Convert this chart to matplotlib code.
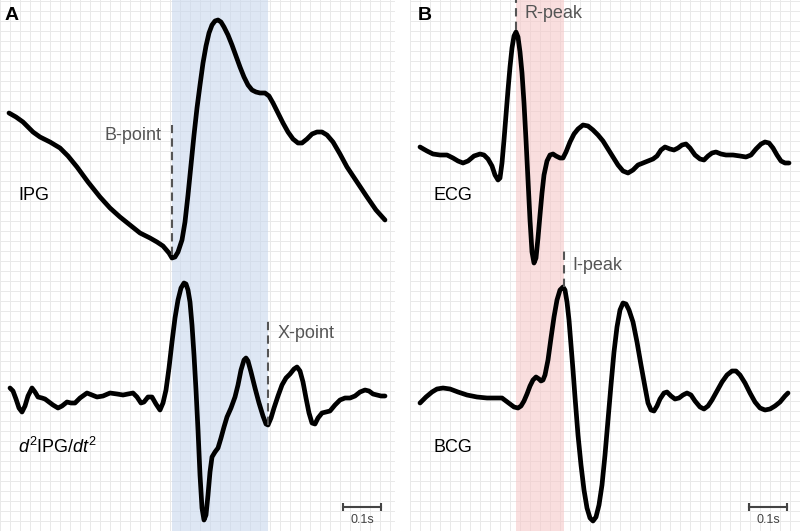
import numpy as np
import matplotlib.pyplot as plt
from matplotlib.ticker import MultipleLocator

plt.rcParams['font.family'] = ['Liberation Sans', 'DejaVu Sans']
plt.rcParams['mathtext.fontset'] = 'custom'
plt.rcParams['mathtext.rm'] = 'Liberation Sans'
plt.rcParams['mathtext.it'] = 'Liberation Sans:italic'

fs = 380.0  # samples per second

# sample index, amplitude (arbitrary units)
ipg_n = [9, 16, 23, 28, 33, 40, 50, 60, 68, 77, 88, 100, 110, 120, 130, 140, 150, 157,
         163, 169, 172, 175, 178, 182, 185, 188, 191, 194, 197, 200, 203, 206, 209,
         212, 215, 218, 221, 224, 228, 232, 236, 240, 244, 248, 252, 256, 260, 265,
         269, 273, 278, 283, 288, 293, 298, 302, 307, 312, 317, 322, 327, 333, 340,
         347, 357, 367, 376, 385]
ipg_a = [8.7, 8.3, 7.8, 7.3, 6.8, 6.3, 5.8, 5.2, 4.4, 3.3, 1.8, 0.3, -0.8, -1.7, -2.5,
         -3.3, -3.8, -4.2, -4.6, -5.3, -5.8, -5.7, -5.2, -4.0, -2.2, 0.5, 3.5, 6.5,
         9.2, 11.5, 13.7, 15.4, 16.7, 17.5, 17.9, 18.0, 17.8, 17.3, 16.5, 15.5, 14.4,
         13.3, 12.3, 11.5, 11.0, 10.8, 10.7, 10.7, 10.4, 9.7, 8.7, 7.7, 6.8, 6.1, 5.7,
         5.7, 6.1, 6.6, 6.8, 6.8, 6.5, 5.8, 4.6, 3.3, 1.8, 0.3, -1.0, -2.0]

d2_n = [10, 13, 16, 19, 22, 25, 28, 32, 35, 38, 42, 45, 49, 53, 58, 62, 67, 71, 75, 80,
        87, 92, 97, 103, 110, 117, 123, 128, 133, 137, 141, 144, 148, 152, 156, 160,
        163, 166, 169, 172, 175, 178, 181, 184, 186, 188, 190, 192, 194, 196, 198,
        200, 202, 204, 206, 208, 210, 212, 215, 218, 221, 224, 227, 231, 235, 238,
        241, 244, 246, 248, 251, 255, 259, 263, 266, 268, 271, 274, 278, 282, 286,
        290, 294, 297, 300, 303, 306, 309, 312, 315, 318, 322, 326, 330, 335, 340,
        345, 350, 355, 360, 365, 369, 373, 377, 381, 385]
d2_a = [1.2, 0.9, 0.1, -0.8, -1.2, -0.6, 0.4, 1.2, 0.8, 0.3, 0.2, 0.1, -0.2, -0.5, -0.8,
        -0.6, -0.2, -0.3, -0.3, 0.2, 0.7, 0.5, 0.3, 0.4, 0.7, 0.6, 0.5, 0.6, 0.7, 0.3,
        -0.3, -0.2, 0.3, 0.3, -0.4, -1.0, -0.3, 1.0, 3.2, 5.8, 8.2, 10.0, 11.2, 11.7,
        11.6, 11.0, 9.8, 7.5, 4.5, 1.0, -3.0, -7.5, -10.8, -12.0, -11.5, -9.5, -7.2,
        -5.7, -5.2, -4.8, -3.8, -2.7, -1.7, -0.8, 0.3, 1.5, 3.0, 4.0, 4.2, 3.9, 2.8,
        1.2, -0.3, -1.6, -2.4, -2.5, -1.8, -0.8, 0.4, 1.5, 2.2, 2.6, 3.1, 3.3, 2.9,
        1.8, 0.2, -1.3, -2.3, -2.4, -1.8, -1.3, -1.2, -1.1, -0.5, 0.0, 0.2, 0.2, 0.4,
        0.8, 1.0, 0.9, 0.6, 0.5, 0.4, 0.4]

ecg_n = [420, 427, 433, 440, 447, 453, 458, 463, 468, 474, 480, 484, 488, 492, 495, 498,
         500, 502, 504, 506, 508, 510, 512, 514, 516, 518, 520, 522, 524, 526, 528,
         530, 532, 534, 536, 538, 540, 542, 544, 547, 550, 553, 556, 560, 563, 566,
         570, 574, 578, 583, 588, 593, 598, 603, 608, 613, 618, 623, 628, 633, 638,
         643, 648, 653, 657, 661, 665, 670, 674, 678, 682, 686, 690, 695, 700, 704,
         708, 712, 716, 721, 726, 733, 740, 746, 751, 756, 761, 765, 769, 773, 777,
         781, 785, 789]
ecg_a = [0.8, 0.4, 0.1, 0.0, 0.0, -0.3, -0.6, -0.8, -0.6, -0.1, 0.1, 0.0, -0.4, -1.1,
         -2.0, -2.5, -2.3, -0.8, 1.5, 4.0, 6.5, 8.8, 10.7, 11.9, 12.3, 11.8, 10.3, 8.2,
         5.2, 1.5, -2.5, -6.5, -9.7, -10.8, -10.3, -8.3, -6.0, -3.8, -2.0, -0.6, 0.0,
         0.1, -0.1, -0.3, -0.3, 0.3, 1.3, 2.1, 2.6, 3.0, 2.9, 2.5, 2.0, 1.4, 0.6, -0.2,
         -1.0, -1.6, -1.8, -1.5, -1.0, -0.8, -0.6, -0.4, -0.1, 0.5, 0.8, 0.6, 0.5, 0.7,
         1.0, 1.1, 0.7, 0.0, -0.4, -0.5, -0.1, 0.2, 0.3, 0.1, 0.0, 0.0, -0.1, -0.2, 0.0,
         0.6, 1.1, 1.3, 1.2, 0.7, 0.0, -0.6, -0.8, -0.8]

bcg_n = [420, 426, 432, 437, 443, 450, 458, 467, 477, 487, 495, 502, 506, 510, 514, 518,
         521, 524, 527, 530, 533, 536, 539, 541, 543, 545, 548, 551, 554, 557, 560,
         563, 565, 567, 569, 571, 573, 575, 578, 581, 584, 587, 590, 593, 596, 599,
         602, 605, 608, 611, 614, 617, 620, 623, 626, 629, 633, 637, 641, 645, 648,
         651, 654, 657, 660, 664, 667, 671, 675, 679, 683, 687, 691, 695, 700, 704,
         708, 712, 717, 722, 727, 732, 736, 740, 745, 750, 755, 760, 765, 770, 775,
         780, 785, 788]
bcg_a = [-0.3, 0.3, 0.8, 1.1, 1.2, 1.1, 0.8, 0.5, 0.3, 0.2, 0.2, 0.2, -0.1, -0.4, -0.7,
         -0.8, -0.6, -0.1, 0.6, 1.4, 2.0, 2.3, 2.1, 1.9, 2.0, 2.5, 4.0, 6.2, 8.3, 10.0,
         11.0, 11.3, 11.0, 9.8, 8.0, 5.5, 3.0, 0.3, -3.5, -6.5, -9.0, -10.8, -11.8,
         -12.1, -11.7, -10.5, -8.5, -5.5, -2.0, 1.5, 4.8, 7.3, 9.0, 9.7, 9.6, 9.0, 7.8,
         5.8, 3.5, 1.3, -0.3, -1.0, -1.1, -0.6, 0.1, 0.7, 0.8, 0.4, 0.1, 0.2, 0.5, 0.7,
         0.5, -0.1, -0.7, -0.9, -0.6, 0.0, 0.9, 1.8, 2.5, 2.9, 2.9, 2.5, 1.7, 0.7, -0.2,
         -0.8, -1.0, -0.9, -0.6, -0.2, 0.4, 0.7]

b_point, x_point = 172, 268
r_peak, i_peak = 516, 564


def sec(n):
    return np.asarray(n, dtype=float) / fs


fig = plt.figure(figsize=(8, 5.31), dpi=100)
axA = fig.add_axes([0, 0, 395 / 800, 1])
axB = fig.add_axes([410 / 800, 0, 390 / 800, 1])

for ax, lo, hi in ((axA, 0, 395), (axB, 410, 800)):
    ax.set_xlim(sec(lo), sec(hi))
    ax.set_ylim(0, 53.1)
    ax.xaxis.set_major_locator(MultipleLocator(10 / fs))
    ax.yaxis.set_major_locator(MultipleLocator(1.0))
    ax.grid(True, color='#e9e9e9', lw=0.7)
    ax.set_axisbelow(True)
    ax.tick_params(length=0, labelbottom=False, labelleft=False)
    for s in ax.spines.values():
        s.set_visible(False)

grey = '#555555'
kw = dict(color='black', lw=3.4, solid_joinstyle='round', solid_capstyle='round')
dash = dict(colors=grey, linestyles=(0, (4, 2.5)), lw=1.5)

# panel A
axA.axvspan(sec(b_point), sec(x_point), color='#c8d7ee', alpha=0.6, lw=0)
axA.plot(sec(ipg_n), np.array(ipg_a) + 33.1, **kw)
axA.plot(sec(d2_n), np.array(d2_a) + 13.1, **kw)
axA.vlines(sec(b_point), 27.6, 40.6, **dash)
axA.vlines(sec(x_point), 10.6, 21.3, **dash)
axA.text(sec(162), 39.6, 'B-point', color=grey, fontsize=13, ha='right', va='center')
axA.text(sec(278), 19.8, 'X-point', color=grey, fontsize=13, ha='left', va='center')
axA.text(sec(18), 33.5, 'IPG', fontsize=13, va='center')
axA.text(sec(18), 8.4, r'$d^2\mathrm{IPG}/dt^2$', fontsize=13, va='center')
axA.text(sec(5), 51.6, 'A', fontsize=14, fontweight='bold', va='center')

# panel B
axB.axvspan(sec(r_peak), sec(i_peak), color='#f6c9c9', alpha=0.6, lw=0)
axB.plot(sec(ecg_n), np.array(ecg_a) + 37.6, **kw)
axB.plot(sec(bcg_n), np.array(bcg_a) + 13.1, **kw)
axB.vlines(sec(r_peak), 50.1, 53.1, **dash)
axB.vlines(sec(i_peak), 24.4, 28.1, **dash)
axB.text(sec(524), 51.7, 'R-peak', color=grey, fontsize=13, ha='left', va='center')
axB.text(sec(572), 26.6, 'I-peak', color=grey, fontsize=13, ha='left', va='center')
axB.text(sec(433), 33.5, 'ECG', fontsize=13, va='center')
axB.text(sec(433), 8.4, 'BCG', fontsize=13, va='center')
axB.text(sec(418), 51.6, 'B', fontsize=14, fontweight='bold', va='center')

# scale bars (0.1 s)
for ax, n0 in ((axA, 343), (axB, 749)):
    t0 = sec(n0)
    ax.plot([t0, t0 + 0.1], [2.4, 2.4], color='#444444', lw=1.5)
    ax.vlines([t0, t0 + 0.1], 2.0, 2.8, colors='#444444', lw=1.5)
    ax.text(t0 + 0.05, 1.1, '0.1s', color='#444444', fontsize=9, ha='center', va='center')

fig.savefig('out.png', dpi=100)
